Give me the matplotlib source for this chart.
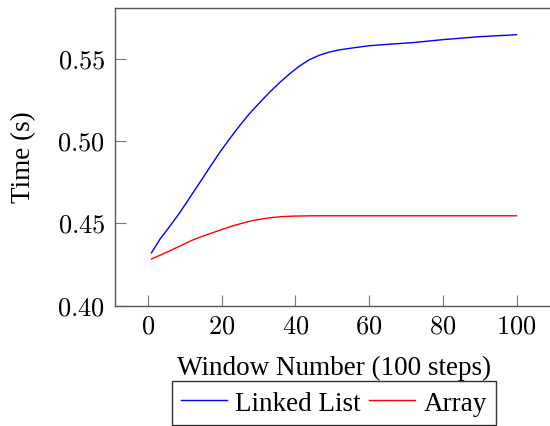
import matplotlib
matplotlib.use('Agg')
import matplotlib.pyplot as plt
from matplotlib.ticker import FuncFormatter

plt.rcParams['font.family'] = ['Liberation Serif', 'DejaVu Serif']
plt.rcParams['mathtext.fontset'] = 'cm'

# Dữ liệu
ll_x = [1, 1.4, 3.3, 6, 8.7, 11.4, 14.1, 16.8, 19.5, 22.2, 24.9, 27.6, 30.4, 33.1, 35.8,
        38.5, 41.2, 43.9, 46.6, 49.3, 52, 56, 60, 66, 72, 80, 90, 100]
ll_y = [0.4320, 0.4335, 0.4403, 0.4482, 0.4565, 0.4656, 0.4747, 0.4839, 0.4930, 0.5013,
        0.5092, 0.5166, 0.5234, 0.5297, 0.5355, 0.5408, 0.5456, 0.5494, 0.5521, 0.5540,
        0.5553, 0.5566, 0.5578, 0.5588, 0.5597, 0.5615, 0.5633, 0.5645]

arr_x = [1, 4, 6.9, 9.6, 12.3, 15, 17.7, 20.4, 23.1, 25.8, 28.5, 31.2, 33.9, 36.6, 39.4,
         45, 52, 70, 100]
arr_y = [0.4283, 0.4312, 0.4342, 0.4371, 0.4399, 0.4422, 0.4443, 0.4464, 0.4484, 0.4501,
         0.4516, 0.4527, 0.4535, 0.4540, 0.4543, 0.4545, 0.4545, 0.4545, 0.4545]

xticks = [0, 20, 40, 60, 80, 100]
yticks = [0.40, 0.45, 0.50, 0.55]

fig = plt.figure(figsize=(5.5, 4.27), dpi=100)
ax = fig.add_axes([115 / 550, 0.2822, (553 - 115) / 550, 0.980 - 0.2822])

ax.plot(ll_x, ll_y, color='blue', linewidth=1.0, label='Linked List')
ax.plot(arr_x, arr_y, color='red', linewidth=1.0, label='Array')

ax.set_xlim(-8.9, 109.9)
ax.set_ylim(0.40, 0.581)
ax.set_xticks(xticks)
ax.set_yticks(yticks)
ax.xaxis.set_major_formatter(FuncFormatter(lambda v, p: '$%d$' % v))
ax.yaxis.set_major_formatter(FuncFormatter(lambda v, p: '$%.2f$' % v))

for s in ax.spines.values():
    s.set_color('#555555')
    s.set_linewidth(1.0)
ax.tick_params(direction='in', length=8, width=0.8, color='#777777',
               labelsize=19, pad=7, top=False, right=False)

ax.set_xlabel('Window Number (100 steps)', fontsize=19.5, labelpad=13)
ax.set_ylabel('Time (s)', fontsize=19.5, labelpad=15)

leg = ax.legend(loc='upper center', bbox_to_anchor=(0.5, -0.255), ncol=2,
                fontsize=19.5, frameon=True, fancybox=False, edgecolor='black',
                handlelength=1.7, handletextpad=0.3, columnspacing=0.3,
                borderpad=0.35, borderaxespad=0)
leg.get_frame().set_linewidth(1.0)

plt.savefig('out.png', dpi=100)
